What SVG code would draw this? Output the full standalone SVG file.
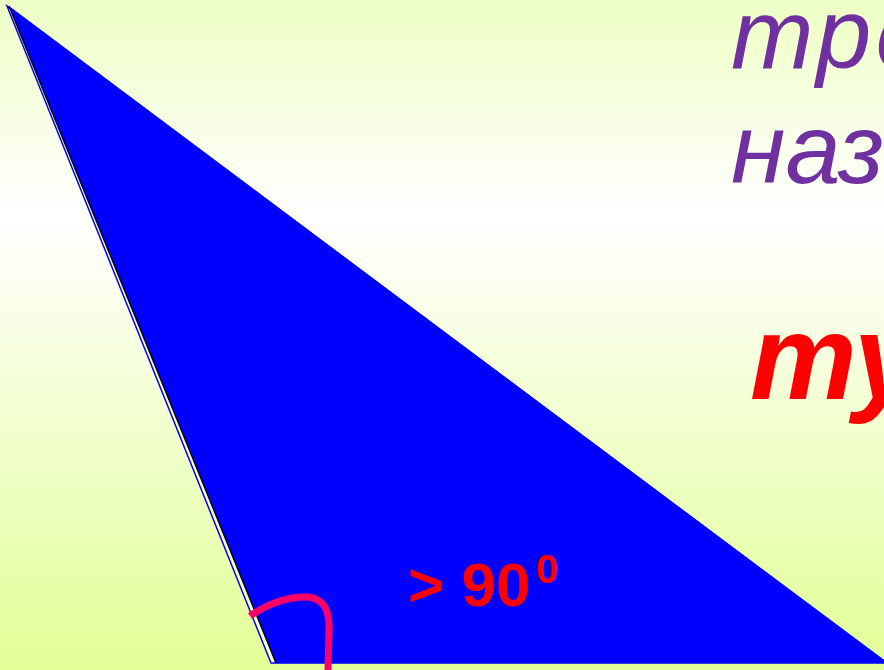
<svg xmlns="http://www.w3.org/2000/svg" width="884" height="670" viewBox="0 0 884 670">
<defs>
<linearGradient id="bg" x1="0" y1="0" x2="0" y2="1">
<stop offset="0" stop-color="#eeffc4"/>
<stop offset="0.32" stop-color="#ffffff"/>
<stop offset="1" stop-color="#e2ff96"/>
</linearGradient>
<style>
.purple{font-family:"Liberation Sans",Arial,sans-serif;font-style:italic;fill:#7030a0;font-size:99px}
.red{font-family:"Liberation Sans",Arial,sans-serif;font-weight:bold;fill:#ff0000}
</style>
</defs>
<rect width="884" height="670" fill="url(#bg)"/>
<g id="triangle">
<polygon points="7,6 271,663 887,663" fill="#fbffd8" stroke="#0000ff" stroke-width="1.5"/>
<polygon points="9,6 276,663 887,663" fill="#0000ff"/>
<line x1="9" y1="6" x2="276" y2="663" stroke="#000000" stroke-width="1.5"/>
</g>
<g id="angle">
<path d="M250,616 C270,602 292,596 308,597 C324,599 330,610 329,632 L328,670" fill="none" stroke="#ff0066" stroke-width="7"/>
<text class="red" x="408" y="606" font-size="62">&gt; 90</text>
<text class="red" x="536" y="583" font-size="40">0</text>
</g>
<g id="caption">
<text class="purple" x="731" y="68" letter-spacing="4">тре</text>
<text class="purple" x="731" y="183">назы</text>
<text class="red" x="750" y="399" font-size="120" font-style="italic">ту</text>
</g>
</svg>
